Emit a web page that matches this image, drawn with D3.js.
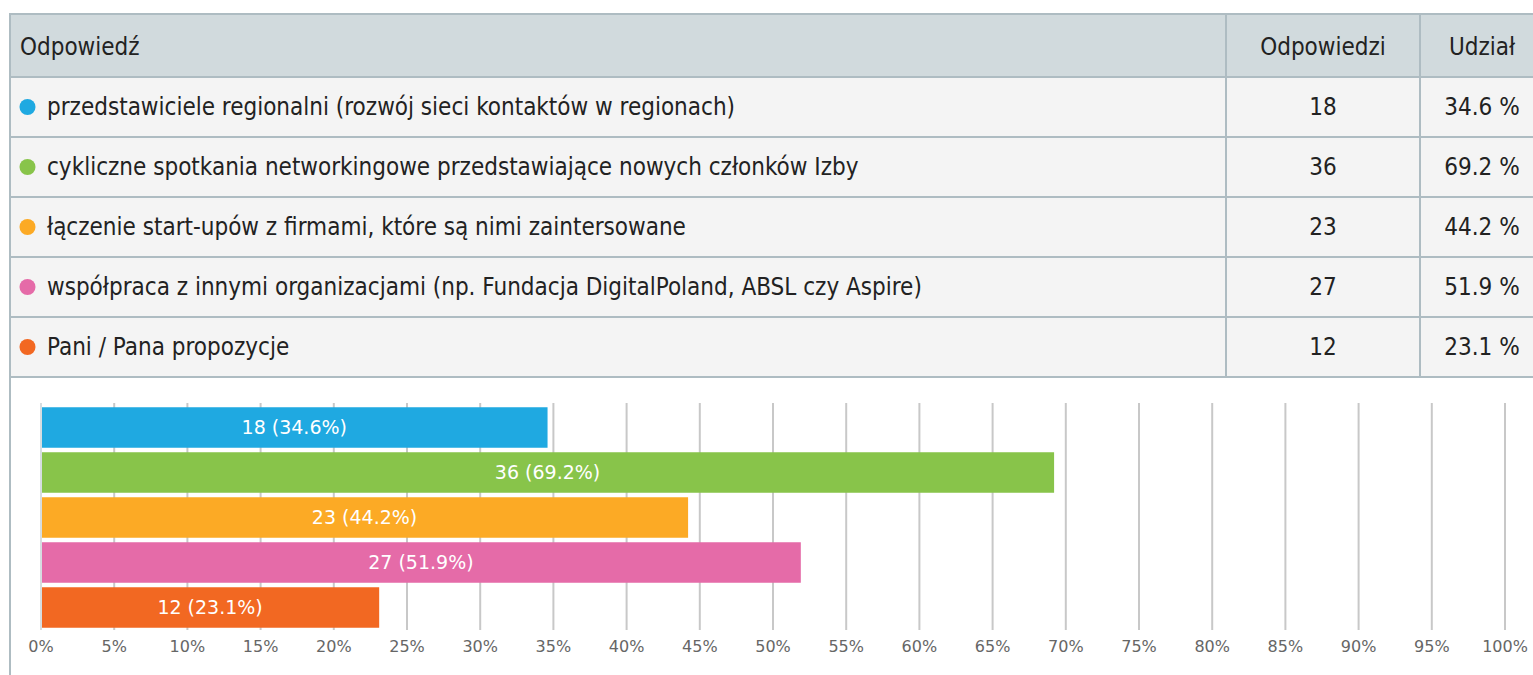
<!DOCTYPE html>
<html>
<head>
<meta charset="utf-8">
<script src="https://cdn.jsdelivr.net/npm/d3@7"></script>
<style>
  html, body { margin: 0; padding: 0; background: #fff; overflow: hidden; }
  svg { display: block; }
  .tbl { font-family: "DejaVu Sans Condensed", "DejaVu Sans", sans-serif; font-stretch: condensed; font-size: 24px; fill: #222; }
</style>
</head>
<body>
<div id="chart"></div>
<script>
// survey answers, counts and shares
const answers = [
    "przedstawiciele regionalni (rozwój sieci kontaktów w regionach)",
    "cykliczne spotkania networkingowe przedstawiające nowych członków Izby",
    "łączenie start-upów z firmami, które są nimi zaintersowane",
    "współpraca z innymi organizacjami (np. Fundacja DigitalPoland, ABSL czy Aspire)",
    "Pani / Pana propozycje"
];
const counts = [18, 36, 23, 27, 12];
const shares = [34.6, 69.2, 44.2, 51.9, 23.1];
const colors = ["#1fa9e1", "#88c44a", "#fcaa25", "#e56ba8", "#f26822"];
const headers = ["Odpowiedź", "Odpowiedzi", "Udział"];
const xTicks = d3.range(0, 101, 5);

const width = 1533, height = 675;
const svg = d3.select('#chart').append('svg')
    .attr('width', width)
    .attr('height', height);

// ---- table ----
const tableLeft = 10, tableRight = 1544, tableTop = 14, rowH = 60;
const colEdges = [tableLeft, 1226, 1420, tableRight];
const borderColor = '#aebcc2';

const table = svg.append('g');

// header
table.append('rect')
    .attr('x', tableLeft).attr('y', tableTop)
    .attr('width', tableRight - tableLeft).attr('height', rowH + 3)
    .attr('fill', '#d1dadd');

const rows = table.selectAll('g.row')
    .data(answers)
    .enter()
    .append('g')
    .attr('class', 'row')
    .attr('transform', (d, i) => `translate(0, ${tableTop + 3 + rowH * (i + 1)})`);

rows.append('rect')
    .attr('x', tableLeft).attr('y', 0)
    .attr('width', tableRight - tableLeft).attr('height', rowH)
    .attr('fill', '#f4f4f4');

// horizontal borders
const hLines = d3.range(answers.length + 2).map(i => i === 0 ? tableTop : tableTop + 3 + rowH * i);
table.selectAll('line.h')
    .data(hLines)
    .enter()
    .append('line')
    .attr('x1', tableLeft).attr('x2', tableRight)
    .attr('y1', d => d).attr('y2', d => d)
    .attr('stroke', borderColor)
    .attr('stroke-width', 2);

// vertical borders
const tableBottom = hLines[hLines.length - 1];
table.selectAll('line.v')
    .data(colEdges.slice(1, 3))
    .enter()
    .append('line')
    .attr('x1', d => d).attr('x2', d => d)
    .attr('y1', tableTop).attr('y2', tableBottom)
    .attr('stroke', borderColor)
    .attr('stroke-width', 2);

// outer left border runs down the whole panel
table.append('line')
    .attr('x1', tableLeft).attr('x2', tableLeft)
    .attr('y1', tableTop - 1).attr('y2', height)
    .attr('stroke', borderColor)
    .attr('stroke-width', 2);

// header text
const headerY = tableTop + (rowH + 3) / 2 + 1;
const colCenter = i => (colEdges[i] + colEdges[i + 1]) / 2;
table.append('text')
    .attr('class', 'tbl')
    .attr('x', 20).attr('y', headerY)
    .attr('dy', '0.35em')
    .text(headers[0]);
[1, 2].forEach(i => {
    table.append('text')
        .attr('class', 'tbl')
        .attr('x', colCenter(i)).attr('y', headerY)
        .attr('dy', '0.35em')
        .attr('text-anchor', 'middle')
        .text(headers[i]);
});

// row contents
rows.append('circle')
    .attr('cx', 27.5).attr('cy', rowH / 2)
    .attr('r', 8)
    .attr('fill', (d, i) => colors[i]);

rows.append('text')
    .attr('class', 'tbl')
    .attr('x', 47).attr('y', rowH / 2)
    .attr('dy', '0.35em')
    .text(d => d);

rows.append('text')
    .attr('class', 'tbl')
    .attr('x', colCenter(1)).attr('y', rowH / 2)
    .attr('dy', '0.35em')
    .attr('text-anchor', 'middle')
    .text((d, i) => counts[i]);

rows.append('text')
    .attr('class', 'tbl')
    .attr('x', colCenter(2)).attr('y', rowH / 2)
    .attr('dy', '0.35em')
    .attr('text-anchor', 'middle')
    .text((d, i) => `${shares[i].toFixed(1)} %`);

// ---- bar chart ----
const x = d3.scaleLinear().domain([0, 100]).range([41, 1505]);
const y = d3.scaleBand()
    .domain(answers)
    .range([405, 630])
    .paddingInner(0.1)
    .paddingOuter(0.05);

const chart = svg.append('g');

// vertical gridlines
chart.selectAll('line.grid')
    .data(xTicks.slice(1))
    .enter()
    .append('line')
    .attr('x1', d => x(d)).attr('x2', d => x(d))
    .attr('y1', 403).attr('y2', 630)
    .attr('stroke', '#c8c8c8')
    .attr('stroke-width', 2);

// y axis line
chart.append('line')
    .attr('x1', x(0)).attr('x2', x(0))
    .attr('y1', 403).attr('y2', 630)
    .attr('stroke', '#d6dde0')
    .attr('stroke-width', 2);

chart.selectAll('rect.bar')
    .data(answers)
    .enter()
    .append('rect')
    .attr('x', x(0) + 1)
    .attr('y', d => y(d))
    .attr('width', (d, i) => x(shares[i]) - x(0) - 1)
    .attr('height', y.bandwidth())
    .attr('fill', (d, i) => colors[i]);

chart.selectAll('text.barLabel')
    .data(answers)
    .enter()
    .append('text')
    .attr('x', (d, i) => (x(0) + x(shares[i])) / 2)
    .attr('y', d => y(d) + y.bandwidth() / 2)
    .attr('dy', '0.35em')
    .attr('text-anchor', 'middle')
    .style('font-family', '"DejaVu Sans", sans-serif')
    .style('font-size', '19px')
    .attr('fill', '#fff')
    .text((d, i) => `${counts[i]} (${shares[i]}%)`);

// x axis labels
chart.selectAll('text.tick')
    .data(xTicks)
    .enter()
    .append('text')
    .attr('x', d => x(d))
    .attr('y', 646)
    .attr('dy', '0.35em')
    .attr('text-anchor', 'middle')
    .style('font-family', '"DejaVu Sans", sans-serif')
    .style('font-size', '16px')
    .attr('fill', '#666')
    .text(d => `${d}%`);
</script>
</body>
</html>
